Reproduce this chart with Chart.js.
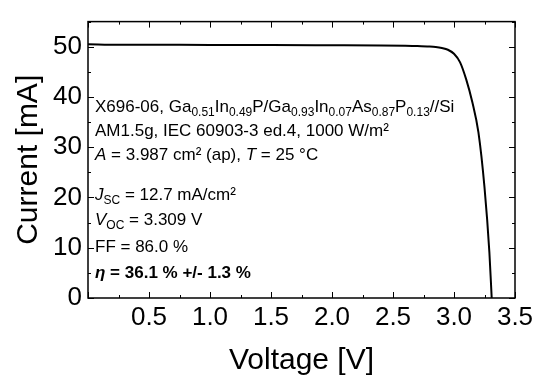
<!DOCTYPE html>
<html>
<head>
<meta charset="utf-8">
<script src="https://cdn.jsdelivr.net/npm/chart.js@4/dist/chart.umd.min.js"></script>
<style>
  html, body { margin: 0; padding: 0; background: #fff; }
  #iv { display: block; }
</style>
</head>
<body>
<canvas id="iv" width="541" height="376"></canvas>
<script>
// I-V curve
const voltage = [0, 0.25, 0.5, 1.0, 1.5, 2.0, 2.4, 2.6, 2.7, 2.8, 2.85, 2.9, 2.95, 3.0, 3.05, 3.1, 3.15, 3.2, 3.25, 3.29, 3.309];
const current = [50.5, 50.4, 50.4, 50.35, 50.35, 50.3, 50.25, 50.2, 50.15, 50.05, 49.95, 49.75, 49.4, 48.6, 46.9, 43.5, 39.0, 33.0, 22.0, 9.1, 0];

const xTickValues = [0.5, 1.0, 1.5, 2.0, 2.5, 3.0, 3.5];
const yTickValues = [0, 10, 20, 30, 40, 50];

const FONT = '"Liberation Sans", Arial, Helvetica, sans-serif';

// annotation lines: [text, style] where style n=normal, s=subscript, i=italic, b=bold, bi=bold italic
const infoLines = [
  { y: 112, parts: [["X696-06, Ga", "n"], ["0.51", "s"], ["In", "n"], ["0.49", "s"], ["P/Ga", "n"], ["0.93", "s"], ["In", "n"], ["0.07", "s"], ["As", "n"], ["0.87", "s"], ["P", "n"], ["0.13", "s"], ["//Si", "n"]] },
  { y: 136, parts: [["AM1.5g, IEC 60903-3 ed.4, 1000 W/m²", "n"]] },
  { y: 160, parts: [["A", "i"], [" = 3.987 cm² (ap), ", "n"], ["T", "i"], [" = 25 °C", "n"]] },
  { y: 200, parts: [["J", "i"], ["SC", "s"], [" = 12.7 mA/cm²", "n"]] },
  { y: 225, parts: [["V", "i"], ["OC", "s"], [" = 3.309 V", "n"]] },
  { y: 252, parts: [["FF = 86.0 %", "n"]] },
  { y: 278, parts: [["η", "bi"], [" = 36.1 % +/- 1.3 %", "b"]] }
];

const fontFor = style => {
  if (style === "s") return "12px " + FONT;
  if (style === "i") return "italic 17px " + FONT;
  if (style === "b") return "bold 17px " + FONT;
  if (style === "bi") return "italic bold 17px " + FONT;
  return "17px " + FONT;
};

const framePlugin = {
  id: "frame",
  afterDatasetsDraw(chart) {
    const { ctx, chartArea: a, scales: { x, y } } = chart;
    ctx.save();
    ctx.strokeStyle = "#000";
    ctx.lineWidth = 1.5;
    ctx.strokeRect(a.left, a.top, a.right - a.left, a.bottom - a.top);
    ctx.lineWidth = 1;
    ctx.beginPath();
    for (let v = 0; v <= 3.5001; v += 0.25) {
      const px = Math.round(x.getPixelForValue(v)) + 0.5;
      const len = Math.abs(v * 2 - Math.round(v * 2)) < 1e-6 ? 6 : 3;
      ctx.moveTo(px, a.bottom); ctx.lineTo(px, a.bottom - len);
      ctx.moveTo(px, a.top); ctx.lineTo(px, a.top + len);
    }
    for (let v = 0; v <= 55; v += 5) {
      const py = Math.round(y.getPixelForValue(v)) + 0.5;
      const len = v % 10 === 0 ? 6 : 3;
      ctx.moveTo(a.left, py); ctx.lineTo(a.left + len, py);
      ctx.moveTo(a.right, py); ctx.lineTo(a.right - len, py);
    }
    ctx.stroke();

    // text block
    ctx.fillStyle = "#000";
    ctx.textBaseline = "alphabetic";
    infoLines.forEach(line => {
      let cx = 95;
      line.parts.forEach(([t, style]) => {
        ctx.font = fontFor(style);
        ctx.fillText(t, cx, style === "s" ? line.y + 4 : line.y);
        cx += ctx.measureText(t).width;
      });
    });
    ctx.restore();
  }
};

new Chart(document.getElementById("iv"), {
  type: "scatter",
  data: {
    datasets: [{
      data: voltage.map((v, i) => ({ x: v, y: current[i] })),
      showLine: true,
      borderColor: "#000",
      borderWidth: 2,
      pointRadius: 0,
      cubicInterpolationMode: "monotone"
    }]
  },
  options: {
    responsive: false,
    devicePixelRatio: 1,
    animation: false,
    layout: { padding: { left: 0, right: 26, top: 9, bottom: 0 } },
    plugins: { legend: { display: false }, tooltip: { enabled: false } },
    scales: {
      x: {
        type: "linear",
        min: 0,
        max: 3.5,
        afterFit: s => { s.height = 78; },
        afterBuildTicks: s => { s.ticks = xTickValues.map(v => ({ value: v })); },
        grid: { display: false, drawTicks: false },
        border: { display: false },
        ticks: {
          color: "#000",
          padding: 4,
          maxRotation: 0,
          font: { family: FONT, size: 26 },
          callback: v => Number(v).toFixed(1)
        },
        title: {
          display: true,
          text: "Voltage [V]",
          color: "#000",
          padding: { top: 0, bottom: 0 },
          font: { family: FONT, size: 30, lineHeight: 1 }
        }
      },
      y: {
        type: "linear",
        min: 0,
        max: 55,
        afterFit: s => { s.width = 88; },
        afterBuildTicks: s => { s.ticks = yTickValues.map(v => ({ value: v })); },
        grid: { display: false, drawTicks: false },
        border: { display: false },
        ticks: {
          color: "#000",
          padding: 6,
          font: { family: FONT, size: 26 }
        },
        title: {
          display: true,
          text: "Current [mA]",
          color: "#000",
          padding: { top: 14, bottom: 0 },
          font: { family: FONT, size: 30, lineHeight: 1 }
        }
      }
    }
  },
  plugins: [framePlugin]
});
</script>
</body>
</html>
